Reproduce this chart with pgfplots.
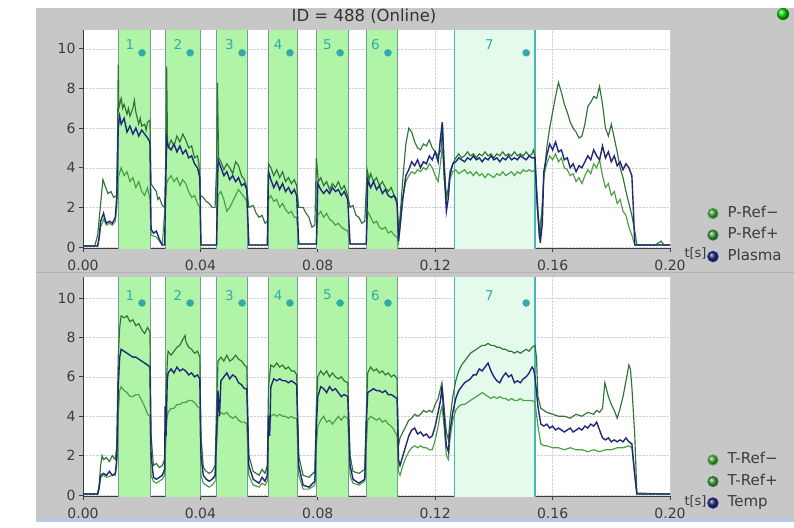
\documentclass[border=0pt]{standalone}
\usepackage{fontspec}
\setmainfont{DejaVu Sans}
\usepackage{pgfplots}
\pgfplotsset{compat=1.18}
\definecolor{bg}{RGB}{199,199,199}
\definecolor{band}{RGB}{176,244,168}
\definecolor{bandedge}{RGB}{110,160,145}
\definecolor{bandseven}{RGB}{228,251,236}
\definecolor{bandsevenedge}{RGB}{70,185,180}
\definecolor{lab}{RGB}{50,170,170}
\definecolor{refup}{RGB}{48,115,55}
\definecolor{reflo}{RGB}{72,160,62}
\definecolor{navy}{RGB}{32,40,120}
\definecolor{tickc}{RGB}{60,60,60}
\definecolor{blueline}{RGB}{175,205,235}
\newcommand{\fs}{\fontsize{14}{16}\selectfont}
\newcommand{\ft}{\fontsize{13}{15}\selectfont}
\newcommand{\fl}{\fontsize{15}{17}\selectfont}
\newcommand{\fn}{\fontsize{13.5}{15}\selectfont}
\pgfplotsset{
  panel/.style={
    scale only axis, width=587pt,
    xmin=0, xmax=0.2,
    axis background/.style={fill=white},
    axis x line*=bottom, axis y line*=left,
    axis line style={tickc, line width=1pt},
    xtick={0,0.04,0.08,0.12,0.16,0.2},
    xticklabels={0.00,0.04,0.08,0.12,0.16,0.20},
    ytick={0,2,4,6,8,10},
    tick align=outside, major tick length=4pt,
    tick style={tickc, line width=0.8pt},
    /pgf/number format/assume math mode=true,
    ticklabel style={font=\fs, text=tickc},
    xticklabel style={yshift=-5pt},
    grid=major, grid style={densely dotted, black!18},
    clip=true,
    legend cell align=left,
    legend style={draw=none, fill=none, font=\fl, text=tickc,
      anchor=north west,
      row sep=5pt, nodes={inner sep=1pt, text height=11pt, text depth=3.5pt},
      /tikz/every odd column/.append style={column sep=8pt}},
    xlabel={t[s]},
    every axis x label/.style={at={(rel axis cs:1.0,0)}, anchor=west, font=\ft, text=tickc, xshift=11pt, yshift=-5pt},
  },
  band/.style={fill=band, draw=bandedge, line width=0.8pt, forget plot},
  bandvii/.style={fill=bandseven, draw=bandsevenedge, line width=1.3pt, forget plot},
  tr/.style={no marks, line width=1.15pt},
}
\begin{document}
\begin{tikzpicture}
\path[use as bounding box] (0,0) rectangle (794pt,-527pt);
\fill[white] (0,0) rectangle (794pt,-527pt);
\fill[bg] (36pt,-8pt) rectangle (794pt,-519pt);
\fill[blueline] (36pt,-519pt) rectangle (794pt,-522pt);
\draw[black!30, line width=0.6pt] (36pt,-272pt) -- (794pt,-272pt);
\node[font=\fontsize{16.5}{18}\selectfont, text=black!80] at (364pt,-16pt) {ID = 488 (Online)};
\shade[ball color=green!85!black] (783pt,-14pt) circle (6pt);

% ---------------- TOP PANEL ----------------
\begin{axis}[panel, anchor=south west, at={(83pt,-248pt)}, height=218pt, ymin=-0.05, ymax=10.95,
  legend style={at={(rel axis cs:1.058,0.206)}}]
\addplot[band] coordinates {(0.012,-1) (0.012,12) (0.023,12) (0.023,-1)} -- cycle;
\addplot[band] coordinates {(0.028,-1) (0.028,12) (0.040,12) (0.040,-1)} -- cycle;
\addplot[band] coordinates {(0.0455,-1) (0.0455,12) (0.056,12) (0.056,-1)} -- cycle;
\addplot[band] coordinates {(0.063,-1) (0.063,12) (0.073,12) (0.073,-1)} -- cycle;
\addplot[band] coordinates {(0.0795,-1) (0.0795,12) (0.0905,12) (0.0905,-1)} -- cycle;
\addplot[band] coordinates {(0.0965,-1) (0.0965,12) (0.107,12) (0.107,-1)} -- cycle;
\addplot[bandvii] coordinates {(0.1265,-1) (0.1265,12) (0.154,12) (0.154,-1)} -- cycle;
\addplot[only marks, mark=*, mark size=3.5pt, lab, forget plot] coordinates {(0.0201,9.8) (0.0365,9.8) (0.0542,9.8) (0.0705,9.8) (0.0876,9.8) (0.1039,9.8) (0.151,9.8)};
\node[font=\fn, text=lab] at (axis cs:0.0160,10.2) {1};
\node[font=\fn, text=lab] at (axis cs:0.0323,10.2) {2};
\node[font=\fn, text=lab] at (axis cs:0.0499,10.2) {3};
\node[font=\fn, text=lab] at (axis cs:0.0665,10.2) {4};
\node[font=\fn, text=lab] at (axis cs:0.0833,10.2) {5};
\node[font=\fn, text=lab] at (axis cs:0.0996,10.2) {6};
\node[font=\fn, text=lab] at (axis cs:0.1385,10.2) {7};
% P-Ref- (lower)
\addplot[tr, reflo, legend image code/.code={\shade[ball color=reflo] (4.5pt,0pt) circle (5pt);}] coordinates {
(0,0.05) (0.005,0.05) (0.0055,0.4) (0.006,1.0) (0.007,1.4) (0.008,1.1) (0.009,1.2) (0.010,1.1) (0.011,1.3) (0.0115,2.0) (0.012,3.5) (0.013,4.0) (0.014,3.6) (0.015,3.8) (0.016,3.3) (0.017,3.5) (0.018,3.0) (0.019,3.3) (0.020,2.8) (0.021,2.6) (0.022,3.0) (0.0228,2.4) (0.0232,0.6) (0.025,0.5) (0.027,0.1) (0.0285,3.2) (0.029,3.4) (0.030,3.6) (0.031,3.3) (0.032,3.5) (0.033,3.1) (0.034,3.4) (0.035,3.2) (0.036,2.8) (0.037,2.5) (0.038,2.6) (0.039,2.2) (0.0398,2.0) (0.0402,0.1) (0.0455,0.1) (0.046,2.6) (0.047,2.8) (0.048,2.4) (0.049,1.8) (0.050,2.0) (0.051,2.3) (0.052,2.6) (0.053,2.9) (0.054,2.7) (0.055,2.5) (0.0558,2.3) (0.0565,0.1) (0.0628,0.1) (0.0632,2.4) (0.064,2.6) (0.065,2.3) (0.066,2.4) (0.067,2.0) (0.068,2.2) (0.069,1.9) (0.070,1.7) (0.071,1.8) (0.072,1.5) (0.0728,1.5) (0.0735,0.15) (0.0795,0.15) (0.080,1.6) (0.081,1.8) (0.082,1.5) (0.083,1.7) (0.084,1.4) (0.085,1.3) (0.086,1.1) (0.087,1.2) (0.088,1.0) (0.089,0.9) (0.0902,0.8) (0.091,0.15) (0.0965,0.15) (0.097,1.8) (0.098,1.5) (0.099,1.2) (0.100,1.3) (0.101,1.0) (0.102,0.9) (0.103,1.0) (0.104,0.7) (0.105,0.8) (0.106,0.6) (0.107,0.5) (0.1075,0.2) (0.108,1.0) (0.109,2.5) (0.110,3.3) (0.111,3.6) (0.112,3.8) (0.113,3.7) (0.114,3.9) (0.115,3.8) (0.116,4.0) (0.117,3.9) (0.118,4.2) (0.119,4.0) (0.120,3.6) (0.121,3.3) (0.122,4.5) (0.1225,5.0) (0.123,3.5) (0.1238,2.4) (0.1245,2.8) (0.125,3.4) (0.126,3.8)
(0.127,3.9) (0.128,3.7) (0.129,3.8) (0.130,3.9) (0.131,3.7) (0.132,3.8) (0.133,3.6) (0.134,3.8) (0.135,3.6) (0.136,3.7) (0.137,3.5) (0.138,3.7) (0.139,3.6) (0.140,3.5) (0.141,3.7) (0.142,3.6) (0.143,3.8) (0.144,3.6) (0.145,3.7) (0.146,3.8) (0.147,3.6) (0.148,3.8) (0.149,3.7) (0.150,3.9) (0.151,3.8) (0.152,3.9) (0.153,3.8)
(0.154,3.9) (0.1548,2.5) (0.1555,0.8) (0.1565,2.0) (0.157,3.6) (0.158,4.2) (0.159,4.6) (0.160,4.4) (0.161,4.7) (0.162,4.3) (0.163,4.5) (0.164,4.0) (0.165,3.9) (0.166,3.6) (0.167,3.7) (0.168,3.3) (0.169,3.5) (0.170,3.2) (0.171,3.6) (0.172,3.9) (0.173,3.7) (0.174,4.2) (0.175,4.0) (0.176,4.4) (0.177,3.6) (0.178,3.0) (0.179,3.2) (0.180,2.6) (0.181,2.8) (0.182,2.2) (0.183,2.4) (0.184,1.8) (0.185,1.6) (0.186,1.0) (0.187,0.6) (0.188,0.1) (0.2,0.1)};
\addlegendentry{P-Ref\textminus}
% P-Ref+ (upper)
\addplot[tr, refup, legend image code/.code={\shade[ball color=reflo] (4.5pt,0pt) circle (5pt);}] coordinates {
(0,0.05) (0.004,0.05) (0.005,0.6) (0.0062,2.5) (0.0068,3.4) (0.0075,3.1) (0.0085,2.7) (0.0095,2.8) (0.0105,2.5) (0.0115,2.6) (0.0118,6) (0.012,9.2) (0.0122,7.0) (0.013,7.5) (0.0135,7.0) (0.014,7.2) (0.015,6.7) (0.0155,7.0) (0.016,6.6) (0.017,7.0) (0.0175,7.4) (0.018,6.8) (0.019,6.2) (0.0195,6.5) (0.020,6.1) (0.021,6.2) (0.0215,5.9) (0.022,6.3) (0.0228,6.4) (0.0232,3.2) (0.024,3.0) (0.025,2.8) (0.0255,2.4) (0.026,2.5) (0.027,2.1) (0.0278,2.0) (0.0282,4.5) (0.0285,9.1) (0.0288,5.2) (0.029,5.0) (0.030,5.4) (0.031,5.1) (0.032,5.6) (0.033,5.3) (0.034,5.7) (0.035,5.4) (0.036,5.0) (0.037,5.1) (0.038,4.5) (0.039,4.6) (0.0395,4.2) (0.040,2.6) (0.041,2.5) (0.042,2.3) (0.043,2.2) (0.044,2.0) (0.045,2.0) (0.0455,4.0) (0.0458,8.3) (0.0462,4.5) (0.047,4.3) (0.048,3.9) (0.049,4.2) (0.050,4.0) (0.051,3.7) (0.052,4.3) (0.053,4.1) (0.054,3.6) (0.055,3.4) (0.0558,3.0) (0.0565,2.0) (0.058,2.1) (0.059,1.7) (0.060,1.5) (0.061,1.6) (0.062,1.2) (0.0628,1.3) (0.0632,4.2) (0.064,4.0) (0.065,3.6) (0.066,3.9) (0.067,3.5) (0.068,3.8) (0.069,3.3) (0.070,3.5) (0.071,3.2) (0.072,3.4) (0.0728,3.1) (0.0735,2.0) (0.075,2.0) (0.076,1.7) (0.077,1.5) (0.078,1.0) (0.079,1.1) (0.0795,4.5) (0.0802,3.3) (0.081,3.5) (0.082,3.1) (0.083,3.3) (0.084,2.9) (0.085,3.2) (0.086,3.0) (0.087,3.3) (0.088,2.9) (0.089,3.1) (0.0902,2.6) (0.091,2.0) (0.092,2.1) (0.093,1.6) (0.094,1.5) (0.095,1.2) (0.096,1.3) (0.0968,3.9) (0.0975,3.4) (0.098,3.7) (0.099,3.3) (0.100,3.5) (0.101,3.1) (0.102,3.3) (0.103,3.0) (0.104,2.8) (0.105,3.0) (0.106,2.6) (0.107,2.4) (0.1075,0.8) (0.108,1.5) (0.109,3.5) (0.110,5.2) (0.111,6.0) (0.112,5.8) (0.113,5.3) (0.114,5.0) (0.115,4.9) (0.116,5.2) (0.117,5.1) (0.118,5.4) (0.119,5.0) (0.120,4.8) (0.121,4.6) (0.122,4.9) (0.1225,6.2) (0.123,4.5) (0.1238,2.5) (0.1245,3.0) (0.125,3.8) (0.126,4.2)
(0.127,4.5) (0.128,4.7) (0.129,4.5) (0.130,4.6) (0.131,4.8) (0.132,4.6) (0.133,4.7) (0.134,4.5) (0.135,4.7) (0.136,4.6) (0.137,4.8) (0.138,4.6) (0.139,4.7) (0.140,4.5) (0.141,4.7) (0.142,4.6) (0.143,4.8) (0.144,4.6) (0.145,4.7) (0.146,4.6) (0.147,4.8) (0.148,4.6) (0.149,4.7) (0.150,4.6) (0.151,4.8) (0.152,4.6) (0.153,4.7)
(0.1535,4.9) (0.154,4.6) (0.1548,2.0) (0.1555,0.4) (0.156,1.0) (0.157,3.5) (0.158,5.0) (0.159,6.0) (0.160,6.8) (0.161,7.6) (0.162,8.3) (0.163,7.8) (0.164,7.2) (0.165,6.8) (0.166,6.3) (0.167,6.0) (0.168,5.8) (0.169,5.5) (0.170,5.6) (0.171,6.2) (0.172,7.1) (0.173,7.3) (0.174,7.6) (0.175,7.5) (0.176,8.1) (0.177,7.2) (0.178,6.0) (0.179,5.6) (0.180,6.2) (0.181,5.5) (0.182,4.8) (0.183,4.0) (0.184,3.5) (0.185,2.8) (0.186,2.2) (0.187,1.6) (0.188,0.8) (0.1887,0.1) (0.195,0.1) (0.197,0.3) (0.198,0.1) (0.2,0.1)};
\addlegendentry{P-Ref+}
% Plasma
\addplot[tr, navy, line width=1.4pt, legend image code/.code={\shade[ball color=navy] (4.5pt,0pt) circle (5pt);}] coordinates {
(0,0.05) (0.005,0.05) (0.0055,0.5) (0.006,1.3) (0.007,1.7) (0.0075,1.4) (0.008,1.2) (0.009,1.3) (0.010,1.2) (0.011,1.5) (0.0115,2.5) (0.012,6.0) (0.0125,6.6) (0.013,6.2) (0.014,6.5) (0.015,5.8) (0.016,6.1) (0.017,5.7) (0.018,6.0) (0.019,5.6) (0.020,5.9) (0.021,5.7) (0.022,5.5) (0.0228,5.3) (0.0232,0.9) (0.024,0.7) (0.025,0.8) (0.026,0.4) (0.027,0.1) (0.0278,0.1) (0.0285,5.5) (0.029,5.1) (0.030,4.9) (0.031,5.2) (0.032,4.8) (0.033,5.1) (0.034,4.7) (0.035,4.9) (0.036,4.5) (0.037,4.6) (0.038,4.2) (0.039,4.0) (0.0398,3.5) (0.0402,0.1) (0.0455,0.1) (0.046,4.4) (0.047,4.0) (0.048,3.6) (0.049,3.8) (0.050,3.4) (0.051,3.6) (0.052,3.3) (0.053,3.5) (0.054,3.1) (0.055,3.2) (0.0558,2.9) (0.0565,0.1) (0.0628,0.1) (0.0632,3.8) (0.064,3.4) (0.065,3.0) (0.066,3.3) (0.067,2.9) (0.068,3.2) (0.069,2.8) (0.070,3.0) (0.071,2.7) (0.072,2.9) (0.0728,2.6) (0.0735,0.15) (0.0795,0.15) (0.080,3.2) (0.081,2.9) (0.082,2.7) (0.083,2.9) (0.084,2.7) (0.085,3.0) (0.086,2.8) (0.087,2.9) (0.088,2.6) (0.089,2.8) (0.0902,2.4) (0.091,0.15) (0.0965,0.15) (0.097,3.4) (0.098,3.0) (0.099,3.3) (0.100,2.9) (0.101,3.1) (0.102,2.7) (0.103,2.9) (0.104,2.6) (0.105,2.5) (0.106,2.6) (0.107,2.2) (0.1075,0.3) (0.108,1.0) (0.109,2.5) (0.110,3.6) (0.111,3.9) (0.112,4.3) (0.113,4.1) (0.114,4.4) (0.115,4.0) (0.116,4.3) (0.117,4.2) (0.118,4.6) (0.119,4.4) (0.120,4.8) (0.121,4.3) (0.1218,5.5) (0.1224,6.3) (0.123,4.0) (0.1238,1.8) (0.1245,2.5) (0.125,3.6) (0.126,4.2)
(0.127,4.3) (0.128,4.5) (0.129,4.4) (0.130,4.3) (0.131,4.5) (0.132,4.4) (0.133,4.6) (0.134,4.4) (0.135,4.5) (0.136,4.3) (0.137,4.5) (0.138,4.4) (0.139,4.6) (0.140,4.4) (0.141,4.5) (0.142,4.3) (0.143,4.5) (0.144,4.4) (0.145,4.6) (0.146,4.4) (0.147,4.5) (0.148,4.4) (0.149,4.6) (0.150,4.5) (0.151,4.4) (0.152,4.6) (0.153,4.5)
(0.154,4.5) (0.1548,2.0) (0.1558,0.2) (0.1565,1.2) (0.157,3.8) (0.158,4.6) (0.159,5.2) (0.160,4.9) (0.161,5.3) (0.162,4.8) (0.163,4.9) (0.164,4.4) (0.165,4.5) (0.166,4.0) (0.167,4.2) (0.168,3.8) (0.169,4.1) (0.170,4.0) (0.171,4.3) (0.172,4.6) (0.173,4.4) (0.174,4.9) (0.175,4.6) (0.176,4.4) (0.177,5.1) (0.178,4.5) (0.179,4.8) (0.180,4.3) (0.181,4.6) (0.182,4.1) (0.183,4.3) (0.184,3.9) (0.185,4.2) (0.186,4.0) (0.187,3.6) (0.1875,2.0) (0.188,0.1) (0.2,0.1)};
\addlegendentry{Plasma}
\end{axis}

% ---------------- BOTTOM PANEL ----------------
\begin{axis}[panel, anchor=south west, at={(83pt,-496pt)}, height=219pt, ymin=-0.05, ymax=11.07,
  legend style={at={(rel axis cs:1.058,0.212)}}]
\addplot[band] coordinates {(0.012,-1) (0.012,12) (0.023,12) (0.023,-1)} -- cycle;
\addplot[band] coordinates {(0.028,-1) (0.028,12) (0.040,12) (0.040,-1)} -- cycle;
\addplot[band] coordinates {(0.0455,-1) (0.0455,12) (0.056,12) (0.056,-1)} -- cycle;
\addplot[band] coordinates {(0.063,-1) (0.063,12) (0.073,12) (0.073,-1)} -- cycle;
\addplot[band] coordinates {(0.0795,-1) (0.0795,12) (0.0905,12) (0.0905,-1)} -- cycle;
\addplot[band] coordinates {(0.0965,-1) (0.0965,12) (0.107,12) (0.107,-1)} -- cycle;
\addplot[bandvii] coordinates {(0.1265,-1) (0.1265,12) (0.154,12) (0.154,-1)} -- cycle;
\addplot[only marks, mark=*, mark size=3.5pt, lab, forget plot] coordinates {(0.0201,9.75) (0.0365,9.75) (0.0542,9.75) (0.0705,9.75) (0.0876,9.75) (0.1039,9.75) (0.151,9.75)};
\node[font=\fn, text=lab] at (axis cs:0.0160,10.15) {1};
\node[font=\fn, text=lab] at (axis cs:0.0323,10.15) {2};
\node[font=\fn, text=lab] at (axis cs:0.0499,10.15) {3};
\node[font=\fn, text=lab] at (axis cs:0.0665,10.15) {4};
\node[font=\fn, text=lab] at (axis cs:0.0833,10.15) {5};
\node[font=\fn, text=lab] at (axis cs:0.0996,10.15) {6};
\node[font=\fn, text=lab] at (axis cs:0.1385,10.15) {7};
% T-Ref- (lower)
\addplot[tr, reflo, legend image code/.code={\shade[ball color=reflo] (4.5pt,0pt) circle (5pt);}] coordinates {
(0,0.05) (0.005,0.05) (0.0055,0.3) (0.006,0.9) (0.007,1.0) (0.008,0.9) (0.010,1.0) (0.011,1.0) (0.0115,1.5) (0.012,4.0) (0.0125,5.3) (0.013,5.5) (0.014,5.3) (0.015,5.2) (0.016,5.0) (0.017,5.0) (0.018,5.1) (0.019,5.1) (0.020,4.8) (0.021,4.5) (0.022,4.1) (0.0228,4.0) (0.0232,1.0) (0.024,0.7) (0.025,0.6) (0.026,0.7) (0.027,0.8) (0.0278,1.0) (0.0285,3.8) (0.029,4.2) (0.030,4.4) (0.031,4.4) (0.032,4.6) (0.033,4.6) (0.034,4.7) (0.035,4.7) (0.036,4.8) (0.037,4.8) (0.038,4.7) (0.039,4.5) (0.0398,4.4) (0.0402,1.0) (0.041,0.6) (0.042,0.5) (0.043,0.4) (0.044,0.5) (0.045,0.7) (0.0455,2.5) (0.046,4.0) (0.047,4.2) (0.048,4.1) (0.049,4.2) (0.050,4.0) (0.051,3.9) (0.052,4.0) (0.053,3.8) (0.054,3.7) (0.055,3.7) (0.0558,3.6) (0.0565,1.0) (0.058,0.5) (0.060,0.4) (0.061,0.6) (0.062,0.5) (0.0628,0.7) (0.0632,3.0) (0.064,4.0) (0.065,4.1) (0.066,4.0) (0.067,4.1) (0.068,4.0) (0.069,4.0) (0.070,3.9) (0.071,4.0) (0.072,3.9) (0.0728,3.9) (0.0735,1.0) (0.075,0.3) (0.077,0.3) (0.079,0.5) (0.0795,2.5) (0.080,3.5) (0.081,3.8) (0.082,4.0) (0.083,3.7) (0.084,3.8) (0.085,3.6) (0.086,3.8) (0.087,4.0) (0.088,3.8) (0.089,4.0) (0.0902,3.9) (0.091,1.0) (0.092,0.6) (0.094,0.5) (0.096,0.7) (0.0965,2.5) (0.097,3.8) (0.098,4.0) (0.099,3.9) (0.100,3.8) (0.101,3.9) (0.102,3.7) (0.103,3.8) (0.104,3.6) (0.105,3.5) (0.106,3.3) (0.107,3.0) (0.1075,1.2) (0.108,1.0) (0.109,1.5) (0.110,1.9) (0.111,2.2) (0.112,2.4) (0.113,2.5) (0.114,2.4) (0.115,2.5) (0.116,2.4) (0.117,2.4) (0.118,2.3) (0.119,2.3) (0.120,2.8) (0.121,3.5) (0.1218,4.2) (0.1223,4.5) (0.123,3.5) (0.1238,2.0) (0.1245,1.8) (0.125,2.8) (0.126,3.8) (0.127,4.3) (0.128,4.5) (0.129,4.6) (0.130,4.6) (0.131,4.7) (0.132,4.8) (0.133,4.9) (0.134,5.0) (0.135,5.1) (0.136,5.2) (0.137,5.1) (0.138,5.0) (0.139,4.9) (0.140,5.0) (0.141,4.9) (0.142,5.0) (0.143,4.9) (0.144,4.9) (0.145,4.8) (0.146,4.9) (0.147,4.8) (0.148,4.8) (0.149,4.9) (0.150,4.8) (0.151,4.8) (0.152,4.8) (0.153,4.8) (0.154,4.7) (0.155,3.5) (0.156,2.6) (0.157,2.5) (0.158,2.5) (0.160,2.4) (0.162,2.4) (0.164,2.3) (0.166,2.4) (0.168,2.3) (0.170,2.3) (0.172,2.2) (0.174,2.3) (0.176,2.2) (0.178,2.3) (0.180,2.3) (0.182,2.4) (0.184,2.4) (0.186,2.5) (0.187,2.4) (0.188,1.0) (0.1887,0.05) (0.2,0.05)};
\addlegendentry{T-Ref\textminus}
% T-Ref+ (upper)
\addplot[tr, refup, legend image code/.code={\shade[ball color=reflo] (4.5pt,0pt) circle (5pt);}] coordinates {
(0,0.05) (0.005,0.05) (0.0055,0.5) (0.006,1.5) (0.0065,2.0) (0.007,1.8) (0.008,1.9) (0.009,1.7) (0.010,2.0) (0.011,1.8) (0.0115,2.5) (0.012,7.0) (0.0125,8.5) (0.013,9.1) (0.014,9.0) (0.015,9.1) (0.016,8.8) (0.017,8.9) (0.018,8.6) (0.019,8.7) (0.020,8.4) (0.021,8.2) (0.022,8.5) (0.0228,8.3) (0.0232,3.0) (0.024,1.5) (0.025,1.6) (0.026,1.4) (0.027,1.5) (0.0278,1.8) (0.0282,5.0) (0.0288,7.0) (0.029,7.3) (0.030,7.1) (0.031,7.3) (0.032,7.5) (0.033,7.6) (0.034,7.9) (0.0348,8.1) (0.035,7.8) (0.036,7.5) (0.037,7.4) (0.038,7.2) (0.039,7.3) (0.0398,7.0) (0.0402,3.0) (0.041,1.4) (0.042,1.2) (0.043,1.1) (0.044,1.2) (0.045,1.5) (0.0455,4.5) (0.046,6.8) (0.047,7.0) (0.048,6.8) (0.049,7.1) (0.050,6.8) (0.051,6.9) (0.052,7.1) (0.053,6.9) (0.054,6.8) (0.055,6.6) (0.0558,6.5) (0.0565,2.0) (0.058,1.2) (0.060,1.0) (0.061,1.3) (0.062,1.1) (0.0628,1.5) (0.0632,5.5) (0.064,6.6) (0.065,6.5) (0.066,6.7) (0.067,6.5) (0.068,6.6) (0.069,6.4) (0.070,6.5) (0.071,6.3) (0.072,6.3) (0.0728,6.1) (0.0735,2.0) (0.075,1.0) (0.077,0.9) (0.079,1.2) (0.0795,4.5) (0.080,6.0) (0.081,6.3) (0.082,6.1) (0.083,6.3) (0.084,6.0) (0.085,6.2) (0.086,6.0) (0.087,5.9) (0.088,6.0) (0.089,5.8) (0.0902,5.7) (0.091,2.0) (0.092,1.2) (0.094,1.1) (0.096,1.3) (0.0965,4.0) (0.097,6.2) (0.098,6.5) (0.099,6.3) (0.100,6.4) (0.101,6.2) (0.102,6.3) (0.103,6.1) (0.104,6.2) (0.105,6.0) (0.106,6.1) (0.107,5.9) (0.1075,2.5) (0.108,2.9) (0.109,3.2) (0.110,3.5) (0.111,3.8) (0.112,3.9) (0.113,4.1) (0.114,4.0) (0.115,4.1) (0.116,4.3) (0.117,4.2) (0.118,4.3) (0.119,4.2) (0.120,4.6) (0.121,4.9) (0.1218,5.4) (0.1223,5.7) (0.123,4.5) (0.1238,3.2) (0.1245,2.8) (0.125,3.8) (0.126,5.0) (0.127,5.8) (0.128,6.3) (0.129,6.6) (0.130,6.8) (0.131,7.0) (0.132,7.2) (0.133,7.3) (0.134,7.4) (0.135,7.5) (0.136,7.6) (0.137,7.6) (0.138,7.7) (0.139,7.6) (0.140,7.6) (0.141,7.5) (0.142,7.5) (0.143,7.4) (0.144,7.4) (0.145,7.3) (0.146,7.3) (0.147,7.2) (0.148,7.3) (0.149,7.2) (0.150,7.3) (0.151,7.4) (0.152,7.3) (0.153,7.5) (0.154,7.6) (0.1545,7.0) (0.155,5.0) (0.156,4.4) (0.157,4.3) (0.158,4.2) (0.160,4.1) (0.162,4.0) (0.164,4.0) (0.166,3.9) (0.168,4.1) (0.170,4.0) (0.172,4.2) (0.174,4.1) (0.175,4.3) (0.176,4.2) (0.177,4.4) (0.1778,5.7) (0.179,5.0) (0.180,4.6) (0.181,4.3) (0.182,3.9) (0.183,4.4) (0.184,5.0) (0.185,5.8) (0.186,6.6) (0.1865,6.4) (0.187,5.5) (0.188,3.0) (0.1887,0.1) (0.2,0.05)};
\addlegendentry{T-Ref+}
% Temp
\addplot[tr, navy, line width=1.4pt, legend image code/.code={\shade[ball color=navy] (4.5pt,0pt) circle (5pt);}] coordinates {
(0,0.05) (0.005,0.05) (0.0055,0.4) (0.006,1.0) (0.007,1.1) (0.008,1.0) (0.009,1.2) (0.010,1.0) (0.011,1.1) (0.0115,1.8) (0.012,5.5) (0.0125,7.0) (0.013,7.4) (0.014,7.3) (0.015,7.2) (0.016,7.1) (0.017,7.0) (0.018,7.0) (0.019,6.9) (0.020,6.8) (0.021,6.7) (0.022,6.6) (0.0228,6.5) (0.0232,2.0) (0.024,0.9) (0.025,0.8) (0.026,0.9) (0.027,1.0) (0.0278,1.3) (0.028,4.5) (0.0283,3.0) (0.0287,5.8) (0.029,6.2) (0.030,6.4) (0.031,6.2) (0.032,6.5) (0.033,6.3) (0.034,6.4) (0.035,6.3) (0.036,6.1) (0.037,6.2) (0.038,6.0) (0.039,6.1) (0.0398,5.9) (0.0402,2.0) (0.041,1.0) (0.042,0.8) (0.043,0.7) (0.044,0.8) (0.045,1.0) (0.0455,3.0) (0.046,5.3) (0.0465,4.0) (0.047,5.8) (0.048,6.0) (0.049,6.2) (0.050,5.9) (0.051,6.1) (0.052,6.0) (0.053,5.7) (0.054,5.6) (0.055,5.4) (0.0558,5.4) (0.0565,1.5) (0.058,0.8) (0.060,0.6) (0.061,0.9) (0.062,0.7) (0.0628,1.0) (0.0632,4.0) (0.0636,3.0) (0.064,5.5) (0.065,5.9) (0.066,5.8) (0.067,5.9) (0.068,5.8) (0.069,5.8) (0.070,5.7) (0.071,5.8) (0.072,5.7) (0.0728,5.6) (0.0735,1.5) (0.075,0.5) (0.077,0.4) (0.079,0.7) (0.0795,3.5) (0.080,5.0) (0.081,5.5) (0.082,5.4) (0.083,5.2) (0.084,5.5) (0.085,5.3) (0.086,5.4) (0.087,5.2) (0.088,5.0) (0.089,5.1) (0.0902,5.0) (0.091,1.5) (0.092,0.8) (0.094,0.6) (0.096,0.8) (0.0965,3.5) (0.097,5.2) (0.098,5.3) (0.099,5.4) (0.100,5.3) (0.101,5.3) (0.102,5.2) (0.103,5.3) (0.104,5.1) (0.105,5.1) (0.106,5.0) (0.107,4.9) (0.1075,1.8) (0.108,1.5) (0.109,2.0) (0.110,2.5) (0.111,3.0) (0.112,3.3) (0.113,3.4) (0.114,3.1) (0.115,3.2) (0.116,3.0) (0.117,3.1) (0.118,2.9) (0.119,3.0) (0.120,3.5) (0.121,4.2) (0.1218,4.8) (0.1223,5.5) (0.123,4.0) (0.1238,2.5) (0.1245,2.2) (0.125,3.2) (0.126,4.2) (0.127,4.9) (0.128,5.3) (0.129,5.5) (0.130,5.7) (0.131,5.8) (0.132,5.9) (0.133,6.1) (0.134,6.1) (0.135,6.4) (0.136,6.3) (0.137,6.5) (0.138,6.7) (0.139,6.3) (0.140,6.0) (0.141,5.8) (0.142,5.7) (0.143,6.0) (0.144,6.2) (0.145,6.0) (0.146,6.1) (0.147,5.7) (0.148,5.8) (0.149,5.7) (0.150,5.9) (0.151,6.0) (0.152,6.2) (0.153,6.5) (0.1535,6.4) (0.154,6.0) (0.155,4.5) (0.156,3.6) (0.157,3.5) (0.158,3.6) (0.159,3.4) (0.160,3.5) (0.161,3.3) (0.162,3.4) (0.163,3.3) (0.164,3.2) (0.165,3.3) (0.166,3.4) (0.167,3.2) (0.168,3.3) (0.169,3.4) (0.170,3.3) (0.171,3.5) (0.172,3.4) (0.173,3.6) (0.174,3.5) (0.175,3.7) (0.176,3.3) (0.177,2.9) (0.178,2.8) (0.179,2.9) (0.180,2.7) (0.181,2.8) (0.182,2.7) (0.183,2.8) (0.184,2.7) (0.185,2.9) (0.186,2.7) (0.187,2.6) (0.188,1.0) (0.1887,0.05) (0.2,0.05)};
\addlegendentry{Temp}
\end{axis}
\end{tikzpicture}
\end{document}
